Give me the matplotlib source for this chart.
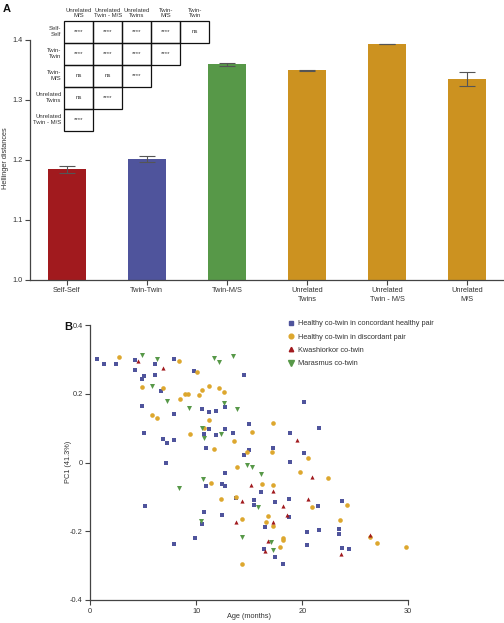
import matplotlib
matplotlib.use("Agg")
import matplotlib.pyplot as plt
from matplotlib.patches import Rectangle
from matplotlib.lines import Line2D

plt.rcParams['font.family'] = ['Liberation Sans', 'DejaVu Sans']
plt.rcParams['axes.unicode_minus'] = False

# ---------------- Panel A data ----------------
categories = ["Self-Self", "Twin-Twin", "Twin-M/S", "Unrelated\nTwins",
              "Unrelated\nTwin - M/S", "Unrelated\nM/S"]
means = [1.184, 1.202, 1.359, 1.349, 1.393, 1.335]
errors = [0.006, 0.005, 0.003, 0.0005, 0.0005, 0.012]
bar_colors = ["#A11A1E", "#4F549C", "#579848", "#CC9220", "#CC9220", "#CC9220"]

table_cols = ["Unrelated\nM/S", "Unrelated\nTwin - M/S", "Unrelated\nTwins", "Twin-\nM/S", "Twin-\nTwin"]
table_rows = ["Self-\nSelf", "Twin-\nTwin", "Twin-\nM/S", "Unrelated\nTwins", "Unrelated\nTwin - M/S"]
table_vals = [
    ["****", "****", "****", "****", "ns"],
    ["****", "****", "****", "****"],
    ["ns", "ns", "****"],
    ["ns", "****"],
    ["****"],
]

# ---------------- Panel B data ----------------
conc_age = [0.6, 1.29, 2.39, 4.25, 4.25, 5.06, 4.9, 6.07, 6.07, 6.7, 7.92, 9.78, 14.47,
            4.9, 5.06, 6.86, 7.2, 7.92, 7.92, 7.17, 10.57, 11.23, 11.86, 12.74, 11.23,
            10.72, 11.86, 12.67, 13.46, 10.91, 14.94, 14.47, 14.94, 17.2, 18.84, 20.19,
            21.6, 20.19, 18.84, 12.74, 10.91, 12.42, 12.67, 16.1, 13.71, 15.44, 15.44,
            17.45, 18.77, 18.77, 21.5, 23.71, 5.13, 10.69, 10.53, 12.39, 16.5, 9.9, 7.89,
            16.41, 17.45, 18.18, 20.44, 20.44, 21.6, 23.46, 23.46, 23.71, 24.37]
conc_pc1 = [0.300, 0.288, 0.287, 0.299, 0.269, 0.253, 0.242, 0.286, 0.256, 0.209, 0.302,
            0.267, 0.256, 0.163, 0.087, 0.068, 0.057, 0.066, 0.141, -0.001, 0.156, 0.147,
            0.150, 0.162, 0.097, 0.084, 0.080, 0.098, 0.086, 0.041, 0.113, 0.021, 0.037,
            0.041, 0.086, 0.176, 0.100, 0.029, 0.002, -0.031, -0.067, -0.063, -0.068,
            -0.085, -0.104, -0.108, -0.125, -0.116, -0.107, -0.158, -0.127, -0.112,
            -0.127, -0.145, -0.179, -0.154, -0.187, -0.219, -0.238, -0.251, -0.274,
            -0.296, -0.203, -0.239, -0.195, -0.192, -0.207, -0.249, -0.253]

disc_age = [2.7, 8.33, 10.06, 4.87, 6.86, 8.46, 8.93, 9.25, 10.28, 10.53, 11.23, 12.14,
            12.61, 5.82, 6.26, 11.23, 10.75, 9.37, 11.67, 13.52, 15.22, 17.2, 14.78, 17.1,
            20.57, 13.87, 19.75, 22.39, 11.43, 16.16, 17.23, 12.33, 13.74, 20.88, 24.25,
            14.31, 16.53, 16.75, 17.23, 23.58, 18.15, 18.15, 17.92, 26.38, 27.01, 29.78,
            14.28]
disc_pc1 = [0.307, 0.296, 0.263, 0.220, 0.216, 0.184, 0.199, 0.200, 0.195, 0.212, 0.224,
            0.217, 0.204, 0.138, 0.130, 0.124, 0.100, 0.083, 0.040, 0.062, 0.088, 0.114,
            0.030, 0.032, 0.012, -0.014, -0.029, -0.044, -0.061, -0.063, -0.064, -0.107,
            -0.101, -0.130, -0.125, -0.164, -0.173, -0.155, -0.185, -0.168, -0.219,
            -0.225, -0.246, -0.218, -0.234, -0.245, -0.295]

kwash_age = [4.53, 6.86, 19.53, 20.88, 15.16, 17.2, 14.28, 20.57, 18.15, 18.58, 13.77,
             17.2, 16.72, 16.5, 26.41, 23.62]
kwash_pc1 = [0.294, 0.276, 0.066, -0.043, -0.066, -0.083, -0.111, -0.105, -0.127,
             -0.153, -0.172, -0.173, -0.228, -0.256, -0.212, -0.267]

maras_age = [4.9, 6.26, 11.7, 12.14, 13.49, 5.82, 7.2, 9.28, 12.61, 13.87, 10.57, 10.75,
             12.36, 14.78, 15.25, 16.13, 10.63, 8.33, 15.85, 10.44, 14.34, 17.04, 17.2]
maras_pc1 = [0.314, 0.300, 0.304, 0.291, 0.309, 0.224, 0.180, 0.158, 0.173, 0.156, 0.099,
             0.070, 0.084, -0.006, -0.012, -0.033, -0.047, -0.074, -0.128, -0.170,
             -0.216, -0.231, -0.255]

series_labels = ["Healthy co-twin in concordant healthy pair",
                 "Healthy co-twin in discordant pair",
                 "Kwashiorkor co-twin", "Marasmus co-twin"]
series_colors = ["#4F549C", "#DDA72E", "#A11A1E", "#579848"]
series_markers = ["s", "o", "^", "v"]

TXT = "#333333"
W, H = 504, 623
fig = plt.figure(figsize=(W / 100, H / 100), dpi=100)


def fr(x0, y0, x1, y1):
    """pixel box (top-left origin) to figure fraction [l, b, w, h]"""
    return [x0 / W, 1 - y1 / H, (x1 - x0) / W, (y1 - y0) / H]


def style_axes(ax):
    for s in ["top", "right"]:
        ax.spines[s].set_visible(False)
    for s in ["left", "bottom"]:
        ax.spines[s].set_color("#444444")
        ax.spines[s].set_linewidth(0.9)
    ax.tick_params(direction="out", length=3.5, width=0.8, colors="#444444",
                   labelcolor=TXT, labelsize=5.3, pad=2)


# ---------------- Panel A ----------------
axA = fig.add_axes(fr(30, 39.7, 503, 279.7))
xpos = list(range(len(categories)))
axA.bar(xpos, means, width=0.48, color=bar_colors, zorder=2)
axA.errorbar(xpos, means, yerr=errors, fmt="none", ecolor="#555555",
             elinewidth=0.8, capsize=5.5, capthick=0.8, zorder=3)
axA.set_ylim(1.0, 1.4)
axA.set_xlim(-0.46, 5.45)
axA.set_yticks([1.0, 1.1, 1.2, 1.3, 1.4])
axA.set_yticklabels(["1.0", "1.1", "1.2", "1.3", "1.4"])
axA.set_xticks(xpos)
axA.set_xticklabels(categories, linespacing=1.3)
style_axes(axA)
fig.text(6 / W, 1 - 158 / H, "Hellinger distances", fontsize=5.3, color=TXT,
         rotation=90, ha="center", va="center")
fig.text(3 / W, 1 - 9 / H, "A", fontsize=8, fontweight="bold", color="#111111",
         va="center", ha="left")

# significance table
axT = fig.add_axes(fr(64.3, 20.7, 209.3, 130.7))
axT.set_xlim(0, 5)
axT.set_ylim(5, 0)
axT.axis("off")
for r, rowvals in enumerate(table_vals):
    for c, v in enumerate(rowvals):
        axT.add_patch(Rectangle((c, r), 1, 1, fill=False, edgecolor="#111111",
                                linewidth=0.9, clip_on=False))
        axT.text(c + 0.5, r + 0.5, v, ha="center", va="center", fontsize=4.3,
                 color=TXT)
for c, lab in enumerate(table_cols):
    axT.text(c + 0.5, -0.1, lab, ha="center", va="bottom", fontsize=4.3,
             color=TXT, linespacing=1.2, clip_on=False)
for r, lab in enumerate(table_rows):
    axT.text(-0.1, r + 0.5, lab, ha="right", va="center", fontsize=4.3,
             color=TXT, linespacing=1.2, clip_on=False)

# ---------------- Panel B ----------------
axB = fig.add_axes(fr(90.3, 325, 408.3, 600))
ages = [conc_age, disc_age, kwash_age, maras_age]
pcs = [conc_pc1, disc_pc1, kwash_pc1, maras_pc1]
sizes = [9, 11, 9, 13]
for a, p, lab, col, mk, sz in zip(ages, pcs, series_labels, series_colors,
                                  series_markers, sizes):
    axB.scatter(a, p, s=sz, marker=mk, color=col, linewidths=0, label=lab,
                zorder=3, clip_on=False)
axB.set_xlim(0, 30)
axB.set_ylim(-0.4, 0.4)
axB.set_xticks([0, 10, 20, 30])
axB.set_yticks([-0.4, -0.2, 0, 0.2, 0.4])
axB.set_yticklabels(["-0.4", "-0.2", "0", "0.2", "0.4"])
style_axes(axB)
fig.text(249 / W, 1 - 617 / H, "Age (months)", fontsize=5.3, color=TXT,
         ha="center", va="center")
fig.text(68 / W, 1 - 462 / H, "PC1 (41.3%)", fontsize=5.3, color=TXT,
         rotation=90, ha="center", va="center")
fig.text(64 / W, 1 - 327 / H, "B", fontsize=8, fontweight="bold", color="#111111",
         va="center", ha="left")

handles = [Line2D([], [], linestyle="none", marker=mk, color=col, markersize=ms)
           for mk, col, ms in zip(series_markers, series_colors, [3.0, 3.4, 3.2, 3.8])]
fig.legend(handles, series_labels, loc="upper left",
           bbox_to_anchor=(288 / W, 1 - 320 / H), frameon=False, fontsize=5.3,
           handlelength=0.8, handletextpad=0.5, labelspacing=0.85,
           borderpad=0, borderaxespad=0, labelcolor=TXT)

fig.savefig("out.png", dpi=100)
